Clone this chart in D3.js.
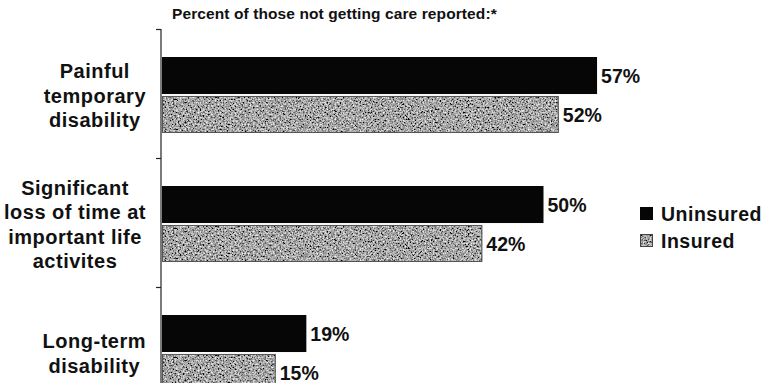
<!DOCTYPE html>
<html>
<head>
<meta charset="utf-8">
<script src="https://cdn.jsdelivr.net/npm/d3@7"></script>
<style>
  html, body { margin: 0; padding: 0; background: #fff; }
  svg { display: block; font-family: "Liberation Sans", Arial, Helvetica, sans-serif; font-weight: bold; }
</style>
</head>
<body>
<svg id="chart" width="765" height="383"></svg>
<script>
// ---- data ----
const categories = [
  ["Painful", "temporary", "disability"],
  ["Significant", "loss of time at", "important life", "activites"],
  ["Long-term", "disability"]
];
const categoryKeys = ["painful", "timeloss", "longterm"];
const seriesNames = ["Uninsured", "Insured"];
const uninsured = [57, 50, 19];
const insured = [52, 42, 15];
const titleText = "Percent of those not getting care reported:*";

// ---- layout ----
const W = 765, H = 383;
const svg = d3.select("#chart");
const defs = svg.append("defs");

const f = defs.append("filter").attr("id", "speckle")
  .attr("x", 0).attr("y", 0).attr("width", "100%").attr("height", "100%")
  .attr("filterUnits", "objectBoundingBox");
f.append("feTurbulence").attr("type", "fractalNoise").attr("baseFrequency", "0.6")
  .attr("numOctaves", 3).attr("seed", 7).attr("result", "t");
f.append("feColorMatrix").attr("in", "t").attr("type", "matrix")
  .attr("values", "1.6 0 0 0 -0.42  1.6 0 0 0 -0.42  1.6 0 0 0 -0.42  0 0 0 0 1")
  .attr("result", "g");
f.append("feComposite").attr("in", "g").attr("in2", "SourceGraphic").attr("operator", "in");

const x = d3.scaleLinear().domain([0, 80]).range([161, 773]);
const y = d3.scaleBand().domain(categoryKeys).range([29, 416]).padding(0);
const yInner = d3.scaleBand().domain(seriesNames).range([28, 104]).paddingInner(0.05);
const boundary = d3.scaleLinear().domain([0, categoryKeys.length]).range(y.range());

const colors = { Uninsured: "#060606", Insured: "#8e8e8e" };

// title
svg.append("text").attr("x", 172).attr("y", 19)
  .attr("font-size", 15.5).attr("letter-spacing", 0.1).attr("fill", "#111").text(titleText);

// axis
const axis = d3.axisLeft(boundary).ticks(categoryKeys.length).tickFormat("").tickSize(5).tickSizeOuter(0);
const gAxis = svg.append("g").attr("transform", `translate(${x(0)},0)`).call(axis);
gAxis.select(".domain").attr("stroke", "#222").attr("stroke-width", 1.2)
  .attr("d", `M0,${y.range()[0]}V${H}`);
gAxis.selectAll(".tick line").attr("stroke", "#222").attr("stroke-width", 1.2);

// bars
const rows = categoryKeys.map((k, i) => ({ key: k, vals: [
  { s: "Uninsured", v: uninsured[i] }, { s: "Insured", v: insured[i] }] }));

const g = svg.selectAll("g.cat").data(rows).join("g").attr("class", "cat")
  .attr("transform", d => `translate(0,${y(d.key)})`);

g.selectAll("rect.bar").data(d => d.vals).join("rect").attr("class", "bar")
  .attr("x", x(0) + 1)
  .attr("y", d => yInner(d.s))
  .attr("width", d => x(d.v) - x(0) - 1)
  .attr("height", yInner.bandwidth())
  .attr("fill", d => colors[d.s])
  .attr("filter", d => d.s === "Insured" ? "url(#speckle)" : null);

g.selectAll("rect.edge").data(d => d.vals.filter(v => v.s === "Insured")).join("rect").attr("class", "edge")
  .attr("x", x(0) + 1.5)
  .attr("y", d => yInner(d.s) + 0.5)
  .attr("width", d => x(d.v) - x(0) - 2)
  .attr("height", yInner.bandwidth() - 1)
  .attr("fill", "none").attr("stroke", "#555").attr("stroke-width", 1);

g.selectAll("text.val").data(d => d.vals).join("text").attr("class", "val")
  .attr("x", d => x(d.v) + 4)
  .attr("y", d => yInner(d.s) + yInner.bandwidth() / 2)
  .attr("dy", "0.36em")
  .attr("font-size", 19.5).attr("fill", "#111")
  .text(d => d.v + "%");

// category labels: lines centered within a block that is right-aligned
const lineH = 24.5, rightEdge = 146;
categoryKeys.forEach((k, i) => {
  const lines = categories[i];
  const cy = y(k) + y.bandwidth() / 2 + 2;
  const grp = svg.append("g").attr("class", "catlabel");
  const texts = lines.map((ln, j) => grp.append("text")
    .attr("font-size", 20).attr("letter-spacing", 0.5).attr("fill", "#111")
    .attr("text-anchor", "middle")
    .attr("y", cy + (j - (lines.length - 1) / 2) * lineH)
    .attr("dy", "0.36em").text(ln));
  const maxW = d3.max(texts, t => t.node().getComputedTextLength());
  texts.forEach(t => t.attr("x", rightEdge - maxW / 2));
});

// legend
const leg = svg.append("g").attr("transform", "translate(640,0)");
const legY = { Uninsured: 207, Insured: 234 };
seriesNames.forEach(s => {
  leg.append("rect").attr("x", 0).attr("y", legY[s]).attr("width", 13).attr("height", 13)
    .attr("fill", colors[s]).attr("filter", s === "Insured" ? "url(#speckle)" : null);
  if (s === "Insured") leg.append("rect").attr("x", 0.5).attr("y", legY[s] + 0.5)
    .attr("width", 12).attr("height", 12).attr("fill", "none").attr("stroke", "#444");
  leg.append("text").attr("x", 21).attr("y", legY[s] + 6.5).attr("dy", "0.36em")
    .attr("font-size", 19.5).attr("letter-spacing", 0.5).attr("fill", "#111").text(s);
});
</script>
</body>
</html>
